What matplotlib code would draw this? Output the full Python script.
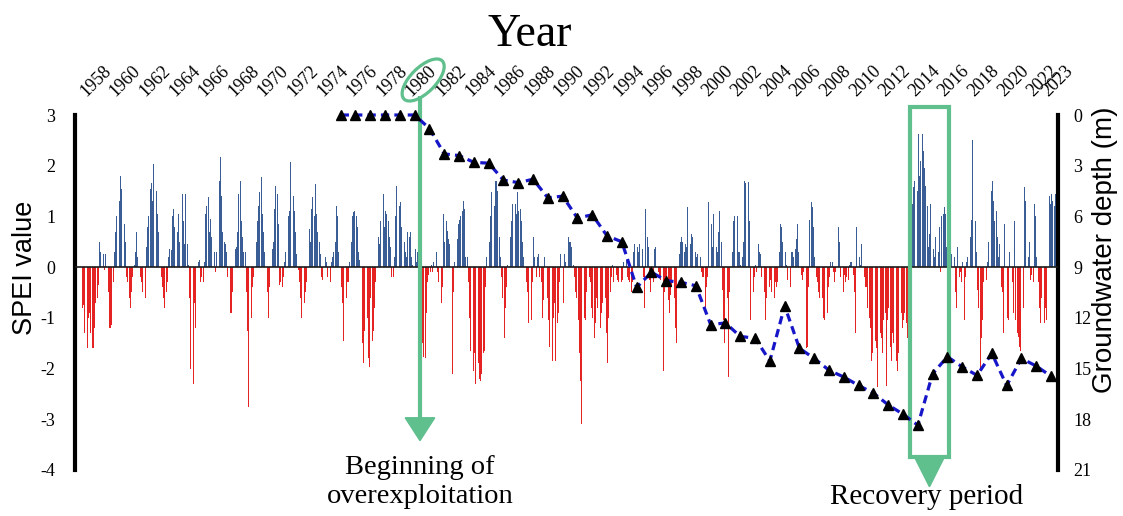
import numpy as np
import matplotlib
matplotlib.use("Agg")
import matplotlib.pyplot as plt
from matplotlib.patches import Ellipse, Rectangle, Polygon
from matplotlib.transforms import ScaledTranslation, blended_transform_factory

# ---------------- data ----------------
years = list(range(1958, 2024))

spei_1958_1969 = [
    [-0.8, -0.75, -1.3, -1.4, -1.6, -1.0, -0.9, -1.3, -1.6, -1.6, -1.2, -0.7],
    [-0.6, -0.35, 0.5, 0.3, 0.2, 0.25, -0.05, 0.25, -0.1, -0.5, -1.2, -1.2],
    [-1.15, -0.3, 0.3, 0.7, 1.0, 1.85, 1.3, 1.8, 1.55, 1.2, 0.85, 0.5],
    [-0.2, -0.3, -0.6, -0.8, -0.5, -0.2, 0.05, 0.3, 0.7, 0.2, -0.1, -0.2],
    [-0.3, -0.5, -0.75, -0.6, 0.4, 0.8, 1.0, 1.55, 1.65, 1.3, 2.04, 1.78],
    [1.5, 1.05, 0.7, 0.4, -0.2, -0.4, -0.6, -0.8, -0.5, -0.3, 0.2, 0.35],
    [0.33, 1.0, 1.15, 0.8, 0.4, 0.7, 1.05, 0.5, 0.9, 1.45, 0.9, 0.45],
    [1.45, 0.45, 0.05, -0.6, -2.0, -2.5, -2.3, -0.7, -1.2, -0.5, 0.1, 0.15],
    [-0.3, -0.2, -0.3, 0.1, 1.05, 1.2, 1.38, 0.7, 0.95, 0.6, 0.4, 0.3],
    [-0.1, 0.3, 1.2, 1.7, 2.17, 1.4, 0.7, 0.5, 0.45, 0.3, -0.2, -0.9],
    [-0.9, -0.9, -0.5, 0.6, 0.35, 0.4, 0.7, 1.45, 1.7, 0.9, 0.6, 0.3],
    [0.3, -0.5, -1.25, -2.75, -3.15, -1.0, -0.4, -0.2, 0.05, 0.5, 0.9, 1.2],
]
spei_1970_1979 = [
    [1.48, 1.78, 1.05, 0.7, 0.3, -0.3, -0.5, -1.0, -0.4, 0.2, 0.35, 0.5],
    [1.15, 1.6, 1.45, 0.85, -0.35, -0.3, -0.4, -0.2, 0.1, 0.3, 0.7, 1.0],
    [1.1, 2.07, 1.94, 1.4, 1.1, 0.7, 0.25, -0.05, -0.3, -0.6, -1.0, -0.7],
    [-0.7, -0.5, -0.3, 0.7, 0.75, 0.5, 1.15, 1.38, 1.0, 1.64, 1.05, 0.7],
    [0.5, 0.25, -0.2, -0.25, 0.15, 0.2, 0.1, -0.2, -0.45, -0.3, 0.1, 0.2],
    [0.3, 0.5, 1.2, 1.0, 0.3, 0.1, -0.4, -0.7, -1.45, -1.1, -0.6, -0.3],
    [-0.3, 0.1, 0.5, 1.0, 1.08, 1.1, 1.0, 0.8, 0.3, 0.15, -0.6, -1.5],
    [-1.9, -1.25, -0.7, -1.0, -1.8, -1.97, -0.6, -1.45, -1.25, -0.8, -0.3, -0.2],
    [0.6, 0.45, 0.9, 1.25, 1.45, 0.8, 1.1, 1.05, 0.9, 0.6, 0.4, -0.2],
    [-0.2, 0.2, 1.0, 1.6, 1.55, 1.2, 1.28, 0.8, 0.6, 0.5, 0.3, 0.2],
]
spei_1980_1989 = [
    [0.7, 0.6, 0.7, 0.2, 0.05, -0.05, 0.35, 0.1, 0.3, -0.3, -0.8, -1.3],
    [-1.5, -1.78, -1.8, -0.9, -0.3, -0.15, -0.1, 0.05, -0.1, 0.1, 0.5, 0.3],
    [-0.1, -0.3, -0.05, -0.7, -0.4, 1.05, 0.5, 0.9, 0.72, 0.55, 0.45, 0.3],
    [-2.1, -0.5, 0.1, 0.6, 0.55, 0.85, 0.92, 1.0, 1.1, 1.3, 1.15, 0.2],
    [0.2, -0.3, -1.0, -1.65, -2.5, -2.05, -1.7, -2.3, -1.8, -1.9, -2.2, -2.25],
    [-2.1, -1.7, -1.65, -0.4, 0.2, 0.3, 0.5, 1.0, 1.48, 1.68, 1.2, 1.7],
    [1.7, 1.5, 0.6, 0.2, -0.2, -0.6, -1.4, -0.8, -0.4, 0.05, 0.4, 0.6],
    [0.9, 1.25, 1.68, 1.25, 1.05, 1.48, 1.1, 1.15, 0.9, 0.5, 0.2, -0.3],
    [-0.3, -0.5, -1.1, -1.58, -1.05, -0.3, 0.6, 0.2, -0.2, 0.2, 0.25, -0.2],
    [-0.3, -1.0, -0.65, 0.2, -0.2, -0.6, -1.05, -1.58, -2.3, -1.85, -1.0, -0.7],
]
spei_1990_1999 = [
    [-1.85, -1.1, -0.9, -0.3, 0.25, 0.5, -0.7, 0.25, 0.1, 0.55, 0.6, 0.5],
    [0.5, 0.4, 0.05, -0.2, -0.5, -0.6, -1.05, -1.7, -2.25, -3.1, -2.0, -1.0],
    [-1.05, -0.5, 0.05, -0.2, -0.3, -0.8, -1.0, -1.4, -1.1, -0.6, -0.8, -1.2],
    [-1.2, -0.9, -0.7, -0.8, -0.6, -1.3, -1.9, -1.0, -0.5, -0.2, 0.05, -0.3],
    [0.05, -0.15, -0.25, -0.3, -0.2, -0.3, -0.25, 0.1, 0.25, 0.15, -0.2, -0.25],
    [-0.3, -0.5, -0.3, 0.3, 0.45, 0.65, 0.4, 0.3, 0.45, 0.2, 0.35, -0.2],
    [-0.8, 1.15, 0.6, 0.4, -0.25, -0.5, 0.1, -0.3, 0.35, 0.4, 0.2, -0.1],
    [-0.2, -0.25, -0.8, -2.05, -0.5, -0.2, -0.25, -0.65, -0.9, -0.55, -0.4, -0.6],
    [-0.6, -1.2, -1.5, -1.05, 0.25, 0.5, 0.6, 0.5, 0.3, 0.45, 0.4, 1.18],
    [1.0, 0.45, 0.65, 0.6, 0.92, 0.3, 0.2, 0.25, 0.05, 0.2, -0.1, -0.2],
]
spei_2000_2009 = [
    [-0.2, -0.8, -0.4, -0.2, 1.28, 0.2, 0.85, 0.4, 1.05, 0.7, 0.4, 0.3],
    [0.7, 1.1, 0.5, -0.45, -1.05, -1.5, -1.1, -0.6, -2.17, -0.5, 0.2, 0.3],
    [0.9, 1.0, 1.2, 1.0, 0.3, 0.3, 0.05, 0.2, 0.5, 1.7, 1.65, 1.05],
    [1.68, 0.9, -1.05, -0.9, -0.5, -0.2, 0.05, -0.1, 0.45, 0.3, 0.25, -0.2],
    [0.15, -0.5, -1.05, -0.6, -0.8, -0.4, -0.25, -0.5, -0.2, -0.6, -0.3, -0.4],
    [-0.3, 0.3, 0.85, 0.8, 0.5, 0.5, 0.3, 0.05, -0.25, -0.2, -0.4, 0.3],
    [0.3, 0.2, 0.35, 0.55, 0.85, 0.3, -0.1, -0.15, -0.25, -0.1, -0.3, -1.6],
    [-1.58, -0.4, 0.92, 1.28, 1.18, 0.8, 0.2, -0.2, -0.3, -0.5, -0.6, -0.4],
    [-0.6, -1.0, -1.05, -1.45, -0.9, -0.4, -0.2, 0.1, 0.1, -0.1, -0.3, -0.1],
    [0.25, 0.8, 0.5, -0.2, -0.35, -0.5, -0.15, -0.3, -0.2, -0.25, 0.05, 0.1],
]
spei_2010_2023 = [
    [0.1, -0.15, -0.5, -1.3, 0.8, 0.5, 0.2, 0.05, 0.45, 0.3, -0.2, -0.4],
    [-0.4, -0.8, -1.0, -1.2, -1.85, -1.7, -1.2, -1.45, -1.6, -2.37, -1.9, -1.3],
    [-1.4, -1.7, -1.05, -0.9, -2.35, -1.05, -0.8, -1.58, -1.85, -1.3, -1.5, -1.6],
    [-1.85, -2.04, -1.7, -1.2, -0.9, -1.2, -1.05, -0.9, -1.1, -1.4, -0.5, 0.4],
    [0.9, 1.25, 1.58, 1.7, 1.75, 1.5, 2.63, 1.8, 2.1, 2.63, 2.3, 1.95],
    [1.6, 1.2, 0.4, 0.65, 1.25, 0.9, 0.35, 0.2, 0.6, -0.15, 0.3, 0.8],
    [-0.1, 1.0, 1.05, 1.18, 1.05, 0.4, 0.3, 0.3, 0.65, 0.25, 0.05, 0.2],
    [-0.5, -0.8, 0.4, -0.2, -0.1, -0.3, 0.1, -1.05, -0.2, 0.1, 0.2, 0.3],
    [0.6, 0.92, 2.5, 2.04, 0.9, 0.3, -0.45, -0.8, -2.05, -1.4, -1.05, -0.3],
    [-0.5, -0.25, 0.1, 0.5, 1.45, 1.5, 1.7, 1.3, 0.9, 1.1, 0.6, 0.2],
    [0.45, -0.4, -0.5, -1.3, 0.85, -0.6, -1.0, -1.05, 0.3, 1.05, -0.3, -0.9],
    [0.9, -1.05, -1.3, -1.38, -1.58, -1.65, -1.3, -0.8, 1.58, 1.3, 0.6, 0.2],
    [0.5, -0.25, -0.15, -0.3, 1.25, 1.0, 0.2, -0.3, -0.8, -1.1, -0.6, 0.3],
    [-1.1, -0.8, -1.05, 0.4, 1.4, 1.25, 1.45, 1.3, 1.2, 1.45, 0.9, -0.3],
]

gw_years = list(range(1975, 2024))
gw_depth = [0, 0, 0, 0, 0, 0, 0.8, 2.3, 2.4, 2.8, 2.85, 3.85, 4.0, 3.8, 4.9, 4.8,
            6.1, 5.9, 7.15, 7.5, 10.2, 9.3, 9.8, 9.9, 10.1, 12.4, 12.3, 13.1, 13.2,
            14.55, 11.3, 13.8, 14.4, 15.1, 15.5, 16.0, 16.45, 17.15, 17.7, 18.35,
            15.3, 14.3, 14.9, 15.4, 14.1, 16.0, 14.4, 14.85, 15.45]

tick_years = list(range(1958, 2023, 2)) + [2023]
spei_ticks = list(range(-4, 4))
depth_ticks = list(range(0, 22, 3))

# ---------------- styling ----------------
BLUE = "#3a5d96"
RED = "#e52323"
GREEN = "#5fbf8d"
LINE_BLUE = "#1616c8"
SERIF = "Liberation Serif"
SANS = "Liberation Sans"

spei = np.array(spei_1958_1969 + spei_1970_1979 + spei_1980_1989 +
                spei_1990_1999 + spei_2000_2009 + spei_2010_2023).ravel()
months = np.tile(np.arange(12), len(years))
t = np.repeat(years, 12) - 0.5 + (months + 0.5) / 12.0

W, H = 1123, 516
fig = plt.figure(figsize=(W / 100, H / 100), dpi=100)
ax = fig.add_axes([75 / W, 1 - 470 / H, 983 / W, 355 / H])

colors = np.where(spei >= 0, BLUE, RED)
ax.bar(t, spei, width=0.7 / 12, color=colors, linewidth=0, zorder=2)
ax.axhline(0, color="#1a1a1a", lw=1.2, zorder=3)

ax.set_xlim(1957.05, 2023.47)
ax.set_ylim(-4, 3)
for s in ("top", "bottom"):
    ax.spines[s].set_visible(False)
for s in ("left", "right"):
    ax.spines[s].set_linewidth(3.0)
    ax.spines[s].set_color("black")

ax.set_yticks(spei_ticks)
ax.set_yticklabels([str(v) for v in spei_ticks], fontfamily=SERIF, fontsize=13)
ax.tick_params(axis="y", length=0, pad=14)

ax.xaxis.tick_top()
ax.set_xticks(tick_years)
ax.set_xticklabels([str(y) for y in tick_years], rotation=45, ha="left",
                   va="bottom", rotation_mode="anchor", fontfamily=SERIF,
                   fontsize=13)
ax.tick_params(axis="x", length=0, pad=11)

ax2 = ax.twinx()
ax2.set_ylim(21, 0)
ax2.set_yticks(depth_ticks)
ax2.set_yticklabels([str(v) for v in depth_ticks], fontfamily=SERIF, fontsize=13)
ax2.tick_params(axis="y", length=0, pad=11)
for s in ax2.spines.values():
    s.set_visible(False)

ax2.plot(gw_years, gw_depth, color=LINE_BLUE, lw=2.3, ls=(0, (2.6, 1.6)),
         marker="^", ms=7.5, mfc="black", mec="black", clip_on=False, zorder=5)

# ---------------- annotations ----------------
blend = blended_transform_factory(ax.transData, ax.transAxes)
off = ScaledTranslation(1980, 1.0, blend)
ell = Ellipse((0.085, 0.35), 0.54, 0.25, angle=45, fill=False, edgecolor=GREEN,
              lw=2.3, transform=fig.dpi_scale_trans + off, clip_on=False)
fig.add_artist(ell)

ARROW_X = 1980.36
ax.plot([ARROW_X, ARROW_X], [3.37, -2.97], color=GREEN, lw=3.0,
        solid_capstyle="butt", clip_on=False, zorder=4)
ax.add_patch(Polygon([[ARROW_X - 1.0, -2.97], [ARROW_X + 1.0, -2.97],
                      [ARROW_X, -3.42]], closed=True, color=GREEN,
                     clip_on=False, zorder=4))

RX0, RX1 = 2013.47, 2016.1
ax.add_patch(Rectangle((RX0, -3.75), RX1 - RX0, 3.16 + 3.75, fill=False,
                       edgecolor=GREEN, lw=3.0, clip_on=False, zorder=4))
RC = (RX0 + RX1) / 2
ax.add_patch(Polygon([[RC - 1.0, -3.75], [RC + 1.0, -3.75], [RC, -4.33]],
                     closed=True, color=GREEN, clip_on=False, zorder=4))

fig.text(530 / W, 1 - 35 / H, "Year", ha="center", va="center",
         fontfamily=SERIF, fontsize=33)
fig.text(420 / W, 1 - 482 / H, "Beginning of\noverexploitation", ha="center",
         va="center", fontfamily=SERIF, fontsize=20.5, linespacing=1.2)
fig.text(927 / W, 1 - 497 / H, "Recovery period", ha="center", va="center",
         fontfamily=SERIF, fontsize=21)
fig.text(25 / W, 1 - 268 / H, "SPEI value", ha="center", va="center",
         rotation=90, fontfamily=SANS, fontsize=19.5)
fig.text(1105 / W, 1 - 250 / H, "Groundwater depth (m)", ha="center",
         va="center", rotation=90, fontfamily=SANS, fontsize=20)

fig.savefig("out.png", dpi=100, facecolor="white")
